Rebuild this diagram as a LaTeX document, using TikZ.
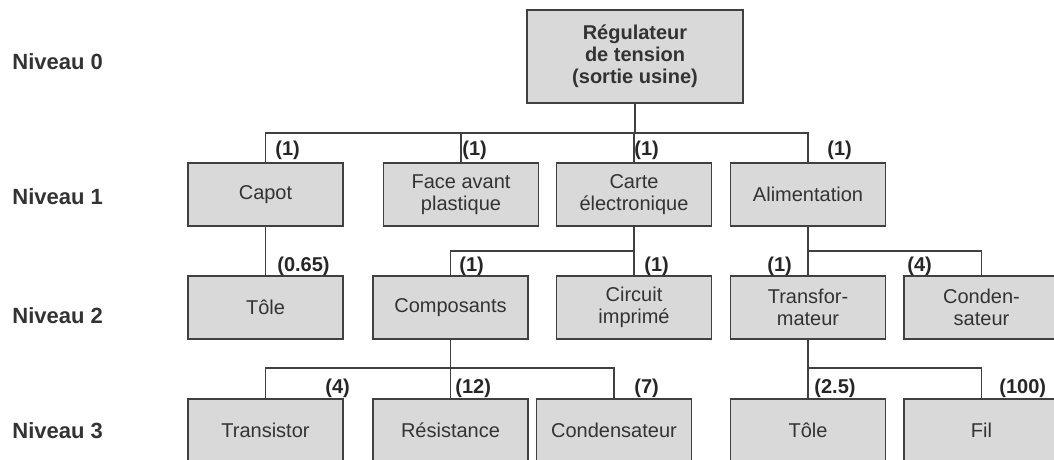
\documentclass[tikz,border=0pt]{standalone}
\usepackage{fontspec}
\setmainfont{Liberation Sans}
\usepackage{tikz}
\usetikzlibrary{positioning}

\begin{document}
\begin{tikzpicture}[x=0.5pt, y=-0.5pt,
    part/.style={rectangle, draw=black!75, line width=0.7pt, fill=black!15,
      minimum width=77.5pt, minimum height=31.5pt, inner sep=1pt, align=center,
      text=black!80, font=\fontsize{10}{11}\selectfont},
    rootbox/.style={part, minimum width=108pt, minimum height=46.5pt,
      font=\fontsize{10}{11}\selectfont\bfseries},
    qty/.style={anchor=west, inner sep=0pt, text=black!85,
      font=\fontsize{10}{12}\selectfont\bfseries},
    level/.style={anchor=west, inner sep=0pt, text=black!80,
      font=\fontsize{11}{13}\selectfont\bfseries},
    link/.style={draw=black!75, line width=0.6pt}]

    \clip (0,0) rectangle (1054,460);

    % niveaux
    \node[level] (n0) at (12,62) {Niveau 0};
    \node[level] (n1) at (12,197) {Niveau 1};
    \node[level] (n2) at (12,316) {Niveau 2};
    \node[level] (n3) at (12,431) {Niveau 3};

    % niveau 0
    \node[rootbox] (reg) at (635,56.5) {Régulateur\\de tension\\(sortie usine)};

    % niveau 1
    \node[part] (capot) at (265.5,194.5) {Capot};
    \node[part] (face) at (461,194.5) {Face avant\\plastique};
    \node[part] (carte) at (634,194.5) {Carte\\électronique};
    \node[part] (alim) at (808,194.5) {Alimentation};

    % niveau 2
    \node[part] (tole) at (265.5,307.5) {Tôle};
    \node[part] (compo) at (450.5,307.5) {Composants};
    \node[part] (circuit) at (634,307.5) {Circuit\\imprimé};
    \node[part] (transfo) at (808,307.5) {Transfor-\\mateur};
    \node[part] (conda) at (981.5,307.5) {Conden-\\sateur};

    % niveau 3
    \node[part] (transistor) at (265.5,430.5) {Transistor};
    \node[part] (resist) at (450.5,430.5) {Résistance};
    \node[part] (condb) at (614,430.5) {Condensateur};
    \node[part] (toleb) at (808,430.5) {Tôle};
    \node[part] (fil) at (981.5,430.5) {Fil};

    % liaisons
    \coordinate (bus0) at (635,133);
    \coordinate (bus1) at (634,251);
    \coordinate (bus2) at (808,251);
    \coordinate (bus3) at (450.5,368);
    \coordinate (bus4) at (808,368);

    \draw[link] (reg) -- (bus0);
    \foreach \n in {capot,face,carte,alim}
        \draw[link] (bus0) -| (\n);
    \draw[link] (capot) -- (tole);
    \draw[link] (carte) -- (bus1);
    \foreach \n in {compo,circuit}
        \draw[link] (bus1) -| (\n);
    \draw[link] (alim) -- (bus2);
    \foreach \n in {transfo,conda}
        \draw[link] (bus2) -| (\n);
    \draw[link] (compo) -- (bus3);
    \foreach \n in {transistor,resist,condb}
        \draw[link] (bus3) -| (\n);
    \draw[link] (transfo) -- (bus4);
    \foreach \n in {toleb,fil}
        \draw[link] (bus4) -| (\n);

    % quantites
    \node[qty] (q1) at (275,150) {(1)};
    \node[qty] (q2) at (462,150) {(1)};
    \node[qty] (q3) at (634,150) {(1)};
    \node[qty] (q4) at (827,150) {(1)};
    \node[qty] (q5) at (277,266) {(0.65)};
    \node[qty] (q6) at (459,266) {(1)};
    \node[qty] (q7) at (644,266) {(1)};
    \node[qty] (q8) at (767,266) {(1)};
    \node[qty] (q9) at (907,266) {(4)};
    \node[qty] (q10) at (325,388) {(4)};
    \node[qty] (q11) at (455,388) {(12)};
    \node[qty] (q12) at (634,388) {(7)};
    \node[qty] (q13) at (814,388) {(2.5)};
    \node[qty] (q14) at (999,388) {(100)};
\end{tikzpicture}
\end{document}
